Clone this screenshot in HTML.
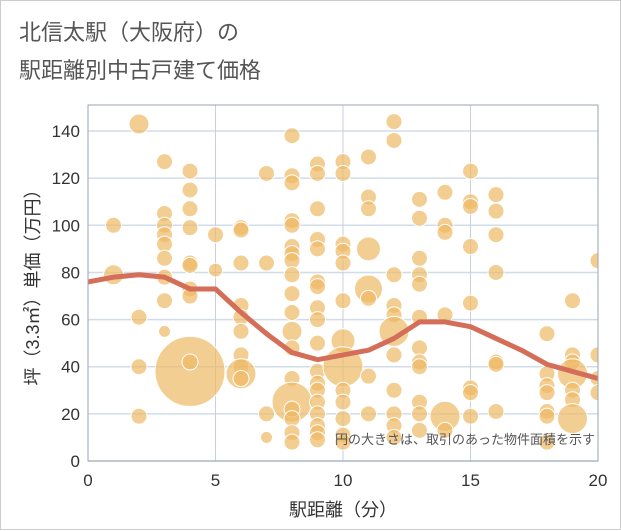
<!DOCTYPE html>
<html><head><meta charset="utf-8"><style>
body{margin:0;background:#fff;font-family:"Liberation Sans","Noto Sans CJK JP",sans-serif}
#w{position:relative;width:619px;height:528px;border:1px solid #ccc;background:#fff}
.t{position:absolute;left:18px;color:#555;font-size:22px}
</style></head><body>
<div id="w">
<div class="t" style="top:14px">北信太駅（大阪府）の</div>
<div class="t" style="top:52px">駅距離別中古戸建て価格</div>
<svg id="c" width="621" height="530" style="position:absolute;left:0;top:0"></svg>
</div>
<script>
const xTicks=[0,5,10,15,20];
const yTicks=[0,20,40,60,80,100,120,140];
const bubbleX=[1,1,2,2,2,2,3,3,3,3,3,3,3,3,3,4,4,4,4,4,4,4,4,4,4,5,5,6,6,6,6,6,6,6,6,6,6,7,7,7,7,8,8,8,8,8,8,8,8,8,8,8,8,8,8,8,8,8,8,8,9,9,9,9,9,9,9,9,9,9,9,9,9,9,9,9,9,9,10,10,10,10,10,10,10,10,10,10,10,10,10,11,11,11,11,11,11,11,11,12,12,12,12,12,12,12,12,12,12,12,13,13,13,13,13,13,13,13,13,13,13,13,14,14,14,14,14,14,15,15,15,15,15,15,15,15,16,16,16,16,16,16,16,18,18,18,18,18,18,18,19,19,19,19,19,19,19,20,20,20,20];
const bubbleY=[100,79,143,61,40,19,127,105,100,96,92,86,78,68,55,123,115,107,99,84,83,73,70,38,42,96,81,99,98,84,66,61,55,45,40,37,35,122,84,20,10,138,121,118,102,100,91,88,85,79,71,63,55,48,35,25,22,18,12,8,126,122,107,94,90,76,74,65,60,50,38,33,30,25,20,15,12,9,127,122,92,89,84,68,51,40,30,25,18,11,8,129,112,107,90,73,69,36,20,144,136,79,66,62,55,45,30,20,15,10,111,103,86,79,75,61,48,42,40,25,20,13,114,100,97,62,19,13,123,110,108,91,67,31,29,19,113,106,96,80,42,41,21,54,37,32,29,21,19,8,68,45,42,37,30,26,18,85,45,35,29];
const bubbleR=[
8,10,
10,8,8,8,
8,8,8,8,8,8,8,8,6,
8,8,8,8,8,8,8,8,35,8,
8,7,
8,8,8,8,8,8,8,8,15,8,
8,8,8,6,
8,8,8,8,8,8,8,8,8,8,8,10,8,8,20,8,8,8,8,
8,8,8,8,8,8,8,8,8,8,8,8,8,8,8,8,8,8,
8,8,8,8,8,8,12,20,8,8,8,8,8,
8,8,8,12,14,8,8,8,
8,8,8,8,8,15,8,8,8,8,8,
8,8,8,8,8,8,8,8,8,8,8,8,
8,8,8,8,15,8,
8,8,8,8,8,8,8,8,
8,8,8,8,8,8,8,
8,8,8,8,8,8,8,
8,8,8,15,8,8,15,
8,8,8,8];
const trendX=[0,1,2,3,4,5,6,7,8,9,10,11,12,13,14,15,16,17,18,19,20];
const trendY=[76,78,79,78,73,73,63,54,46,43,45,47,52,59,59,57,52,47,41,38,35];
const L=87,R=597,T=104,B=460;
const sx=v=>L+v/20*(R-L);
const Y=v=>B-v*2.357;
const svg=document.getElementById('c');const ns='http://www.w3.org/2000/svg';
function mk(t,a,p){const e=document.createElementNS(ns,t);for(const k in a)e.setAttribute(k,a[k]);(p||svg).appendChild(e);return e;}
const clip=mk('clipPath',{id:'cp'});mk('rect',{x:L,y:T,width:R-L,height:B-T},clip);
yTicks.forEach(v=>{const l=mk('line',{x1:L,x2:R,y1:Y(v),y2:Y(v),stroke:'#d0dce8','stroke-width':1.5});


const t=mk('text',{x:L-8,y:Y(v)+6,'text-anchor':'end','font-size':17,fill:'#333'});t.textContent=v;

});
xTicks.forEach(v=>{const l=mk('line',{x1:sx(v),x2:sx(v),y1:T,y2:B,stroke:'#c8d0da','stroke-width':1});


const t=mk('text',{x:sx(v),y:B+25,'text-anchor':'middle','font-size':17,fill:'#333'});t.textContent=v;

});
const g=mk('g',{'clip-path':'url(#cp)'});
bubbleX.forEach((x,i)=>{const c=mk('circle',{cx:sx(x),cy:Y(bubbleY[i]),r:bubbleR[i]||8,fill:'rgba(238,185,100,0.7)',stroke:'#fff','stroke-width':1},g);

});
const p=mk('polyline',{points:trendX.map((x,i)=>sx(x)+','+Y(trendY[i])).join(' '),fill:'none',stroke:'#d46e58','stroke-width':5,'stroke-linejoin':'round'},g);


const f=mk('rect',{x:L,y:T,width:R-L,height:B-T,fill:'none',stroke:'#9aa6b2','stroke-width':1});


const n=mk('text',{x:594,y:443,'text-anchor':'end','font-size':13,fill:'#555'});n.textContent='円の大きさは、取引のあった物件面積を示す';


const xt=mk('text',{x:342,y:515,'text-anchor':'middle','font-size':18,fill:'#333'});xt.textContent='駅距離（分）';


const yt=mk('text',{x:0,y:0,'text-anchor':'middle','font-size':18,fill:'#333',transform:'translate(38,282) rotate(-90)'});yt.textContent='坪（3.3㎡）単価（万円）';


</script>
</body></html>
